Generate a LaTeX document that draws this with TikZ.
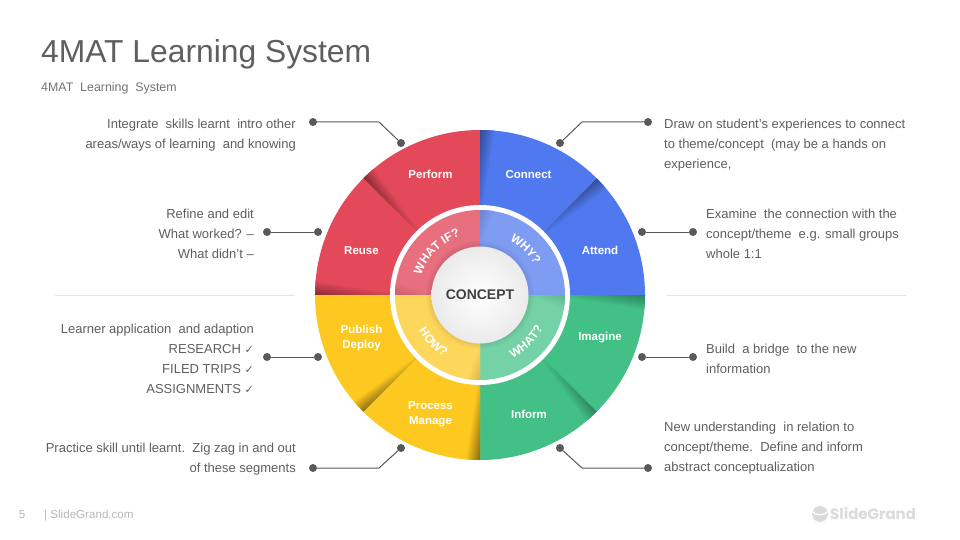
\documentclass[tikz,border=0pt]{standalone}
\usepackage{fontspec}
\setmainfont{Liberation Sans}
\newfontfamily\dejavu{DejaVu Sans}
\newfontfamily\logofont{Poppins}
\usetikzlibrary{decorations.text}
\definecolor{cred}{HTML}{E4495A}
\definecolor{cblue}{HTML}{5079EF}
\definecolor{cgreen}{HTML}{42C086}
\definecolor{cyellow}{HTML}{FDC81F}
\definecolor{lred}{HTML}{E76F7E}
\definecolor{lblue}{HTML}{7F9CF3}
\definecolor{lgreen}{HTML}{74D2A6}
\definecolor{lyellow}{HTML}{FDD75C}
\definecolor{ink}{HTML}{5F5F5F}
\definecolor{dotc}{HTML}{58595B}
\tikzset{
  dotn/.style={circle,fill=dotc,minimum size=8pt,inner sep=0pt},
  conn/.style={draw=dotc,line width=1pt},
  lefttext/.style={text=ink,align=right,anchor=east,inner sep=0pt,font=\fontsize{13}{20}\selectfont},
  righttext/.style={text=ink,align=left,anchor=west,inner sep=0pt,font=\fontsize{13}{20}\selectfont},
  seglabel/.style={text=white,align=center,inner sep=0pt,font=\fontsize{11.5}{15}\selectfont\bfseries},
  divider/.style={draw=black!10,line width=0.8pt}
}
\newcommand{\chk}{{\dejavu\fontsize{11}{11}\selectfont ✓}}
\newcommand{\ringtxt}[1]{|\fontsize{12}{12}\selectfont\bfseries\color{white}|#1}
\begin{document}
\begin{tikzpicture}[x=1pt,y=-1pt]
\useasboundingbox (0,0) rectangle (960,540);
\fill[white] (0,0) rectangle (960,540);
% title
\node[anchor=west,inner sep=0pt,text=ink,font=\fontsize{31.8}{36}\selectfont] (title) at (41,54.5) {4MAT Learning System};
\node[anchor=west,inner sep=0pt,text=black!55,font=\fontsize{12.4}{14}\selectfont] (subtitle) at (41,88.5) {4MAT\ \ Learning\ \ System};
% dividers
\coordinate (dl1) at (55,295); \coordinate (dl2) at (295,295);
\coordinate (dr1) at (666,295); \coordinate (dr2) at (906,295);
\draw[divider] (dl1) -- (dl2);
\draw[divider] (dr1) -- (dr2);
% wheel
\begin{scope}[shift={(480,295)},y=1pt]
\foreach \a/\c/\m in {180/cred/55,135/cred/55,90/cblue/60,45/cblue/60,0/cgreen/65,-45/cgreen/65,-90/cyellow/50,-135/cyellow/50}{
  \pgfmathsetmacro{\b}{\a-45}
  \fill[\c] (\a:165) arc[start angle=\a,end angle=\b,radius=165] -- (\b:89) arc[start angle=\b,end angle=\a,radius=89] -- cycle;
  \begin{scope}
    \clip (\a:165) arc[start angle=\a,end angle=\b,radius=165] -- (\b:89) arc[start angle=\b,end angle=\a,radius=89] -- cycle;
    \pgftransformreset
    \shade[bottom color=\c,top color=\c!\m!black,transform canvas={shift={(480,-295)},rotate=\a,shift={(70,0)},rotate=-9}] (-20,0) rectangle (110,16);
  \end{scope}
}
% white ring and light ring
\fill[white] (0,0) circle[radius=90];
\foreach \a/\c in {180/lred,90/lblue,0/lgreen,-90/lyellow}{
  \pgfmathsetmacro{\b}{\a-90}
  \fill[\c] (0,0) -- (\a:85) arc[start angle=\a,end angle=\b,radius=85] -- cycle;
  \begin{scope}
    \clip (0,0) -- (\a:85) arc[start angle=\a,end angle=\b,radius=85] -- cycle;
    \pgftransformreset
    \shade[bottom color=\c,top color=\c!85!black,transform canvas={shift={(480,-295)},rotate=\a,shift={(45,0)},rotate=-20}] (-20,0) rectangle (60,14);
  \end{scope}
}
% soft shadow of the centre disc
\foreach \r in {54,52.5,51,49.5}{\fill[black,opacity=0.02] (0,0) circle[radius=\r];}
\shade[inner color=white,outer color=black!8] (0,0) circle[radius=48.5];
% ring texts
\path[decorate,decoration={text along path,text align=center,text={\ringtxt{WHAT IF?}}}] (180:62) arc[start angle=180,end angle=90,radius=62];
\path[decorate,decoration={text along path,text align=center,text={\ringtxt{WHY?}}}] (90:62) arc[start angle=90,end angle=0,radius=62];
\path[decorate,decoration={text along path,text align=center,text={\ringtxt{HOW?}}}] (180:71) arc[start angle=180,end angle=270,radius=71];
\path[decorate,decoration={text along path,text align=center,text={\ringtxt{WHAT?}}}] (270:71) arc[start angle=270,end angle=360,radius=71];
\end{scope}
\node[inner sep=0pt,text=black!75,font=\fontsize{14}{16}\selectfont\bfseries] (concept) at (480,294.5) {CONCEPT};
% segment labels
\node[seglabel] (perform) at (430.5,174.5) {Perform};
\node[seglabel] (reuse) at (361.5,250.5) {Reuse};
\node[seglabel] (connect) at (528.5,174.5) {Connect};
\node[seglabel] (attend) at (600,250.5) {Attend};
\node[seglabel] (imagine) at (600,338) {Imagine};
\node[seglabel] (inform) at (529,414.5) {Inform};
\node[seglabel] (publish) at (361.5,338) {Publish\\Deploy};
\node[seglabel] (process) at (430.5,414.5) {Process\\Manage};
% connectors
\node[dotn] (a1) at (313,122) {}; \coordinate (k1) at (379,122); \node[dotn] (b1) at (401,143) {};
\node[dotn] (a2) at (267,232) {}; \node[dotn] (b2) at (318,232) {};
\node[dotn] (a3) at (267,357) {}; \node[dotn] (b3) at (318,357) {};
\node[dotn] (a4) at (313,468) {}; \coordinate (k4) at (379,468); \node[dotn] (b4) at (401,448) {};
\node[dotn] (a5) at (648,122) {}; \coordinate (k5) at (582,122); \node[dotn] (b5) at (560,143) {};
\node[dotn] (a6) at (693,232) {}; \node[dotn] (b6) at (642,232) {};
\node[dotn] (a7) at (693,357) {}; \node[dotn] (b7) at (642,357) {};
\node[dotn] (a8) at (648,468) {}; \coordinate (k8) at (582,468); \node[dotn] (b8) at (560,448) {};
\draw[conn] (a1) -- (k1) -- (b1);
\draw[conn] (a2) -- (b2);
\draw[conn] (a3) -- (b3);
\draw[conn] (a4) -- (k4) -- (b4);
\draw[conn] (a5) -- (k5) -- (b5);
\draw[conn] (a6) -- (b6);
\draw[conn] (a7) -- (b7);
\draw[conn] (a8) -- (k8) -- (b8);
% left texts
\node[lefttext] (t1) at (296,135.5) {Integrate\ \ skills learnt\ \ intro other\\areas/ways of learning\ \ and knowing};
\node[lefttext] (t2) at (254,233.7) {Refine and edit\\What worked? –\\What didn’t –};
\node[lefttext] (t3) at (254,359) {Learner application\ \ and adaption\\RESEARCH \chk\\FILED TRIPS \chk\\ASSIGNMENTS \chk};
\node[lefttext] (t4) at (296,459.5) {Practice skill until learnt.\ \ Zig zag in and out\\of these segments};
% right texts
\node[righttext] (t5) at (664,145.5) {Draw on student’s experiences to connect\\to theme/concept\ \ (may be a hands on\\experience,};
\node[righttext] (t6) at (706,233.7) {Examine\ \ the connection with the\\concept/theme\ \ e.g. small groups\\whole 1:1};
\node[righttext] (t7) at (706,359) {Build\ \ a bridge\ \ to the new\\information};
\node[righttext] (t8) at (664,448.5) {New understanding\ \ in relation to\\concept/theme.\ \ Define and inform\\abstract conceptualization};
% footer
\node[inner sep=0pt,text=black!28,font=\fontsize{11.6}{14}\selectfont] (pageno) at (22,515) {5};
\node[anchor=west,inner sep=0pt,text=black!28,font=\fontsize{11.6}{14}\selectfont] (site) at (44,515.5) {| SlideGrand.com};
\fill[black!14] (820,514) circle[radius=8];
\draw[white,line width=1.2pt] (811.5,511) .. controls (816,516) and (824,516) .. (828.5,511);
\node[anchor=west,inner sep=0pt,text=black!14,font=\fontsize{15}{16}\selectfont\logofont\bfseries] (logo) at (830,514) {SlideGrand};
\end{tikzpicture}
\end{document}
